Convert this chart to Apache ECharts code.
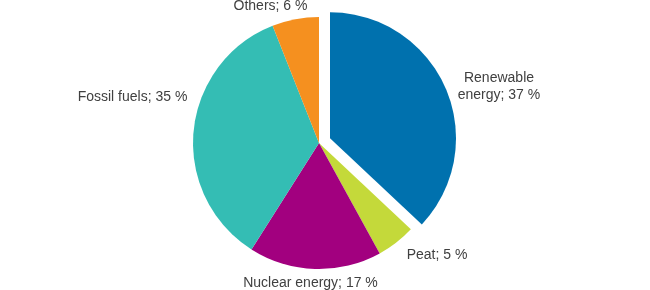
<!DOCTYPE html>
<html>
<head>
<meta charset="utf-8">
<script src="https://cdn.jsdelivr.net/npm/echarts@6/dist/echarts.min.js"></script>
<style>html,body{margin:0;padding:0;background:#fff}#c{width:650px;height:290px}</style>
</head>
<body>
<div id="c"></div>
<script>
const categories = ['Renewable energy', 'Peat', 'Nuclear energy', 'Fossil fuels', 'Others'];
const labelTexts = ['Renewable\nenergy; 37 %', 'Peat; 5 %', 'Nuclear energy; 17 %', 'Fossil fuels; 35 %', 'Others; 6 %'];
const values = [37, 5, 17, 35, 6];
const colors = ['#0071ae', '#c4d93a', '#a2007f', '#34bdb4', '#f5901f'];
const explodedIndex = 0;
// label centre offsets from pie centre (layout hints, px)
const labelOffsets = [[180, -56.5], [118, 112], [-8.5, 140], [-186.5, -46], [-48.5, -137]];

const CX = 319, CY = 143, R = 126, EXPLODE = 12;
const total = values.reduce((a, b) => a + b, 0);
const before = values.slice(0, explodedIndex).reduce((a, b) => a + b, 0);
const midFrac = (before + values[explodedIndex] / 2) / total;
const midRad = midFrac * 2 * Math.PI;
const ex = EXPLODE * Math.sin(midRad), ey = -EXPLODE * Math.cos(midRad);

const common = {
  type: 'pie',
  radius: R,
  startAngle: 90,
  clockwise: true,
  avoidLabelOverlap: false,
  silent: true,
  emphasis: { disabled: true },
  labelLine: { show: false }
};

const chart = echarts.init(document.getElementById('c'));
chart.setOption({
  animation: false,
  series: [
    Object.assign({}, common, {
      center: [CX, CY],
      label: {
        show: true,
        position: 'outside',
        color: '#404040',
        fontFamily: 'Liberation Sans, Arial, sans-serif',
        fontSize: 14,
        lineHeight: 17,
        align: 'center',
        formatter: p => labelTexts[p.dataIndex]
      },
      labelLayout: p => ({
        x: CX + labelOffsets[p.dataIndex][0],
        y: CY + labelOffsets[p.dataIndex][1],
        align: 'center',
        verticalAlign: 'middle'
      }),
      data: categories.map((c, i) => ({
        name: c,
        value: values[i],
        itemStyle: { color: i === explodedIndex ? 'rgba(0,0,0,0)' : colors[i] }
      }))
    }),
    Object.assign({}, common, {
      center: [CX + ex, CY + ey],
      label: { show: false },
      data: categories.map((c, i) => ({
        name: c,
        value: values[i],
        itemStyle: { color: i === explodedIndex ? colors[i] : 'rgba(0,0,0,0)' }
      }))
    })
  ]
});
</script>
</body>
</html>
